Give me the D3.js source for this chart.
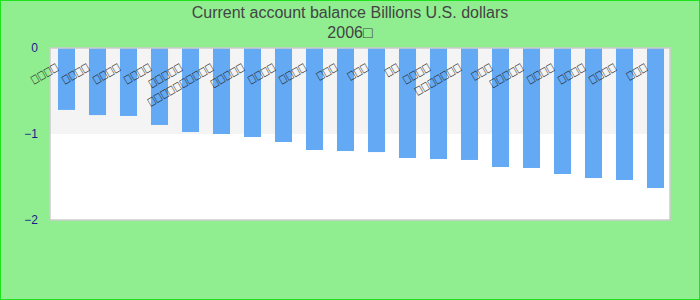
<!DOCTYPE html>
<html>
<head>
<meta charset="utf-8">
<script src="https://cdn.jsdelivr.net/npm/d3@7"></script>
<style>
  html, body { margin: 0; padding: 0; background: #fff; }
  svg { display: block; }
</style>
</head>
<body>
<div id="chart"></div>
<script>
// Category labels (rendered as missing-glyph boxes in the reference)
const categories = [
  "□□□□", "□□□□", "□□□□", "□□□□", "□□□□□",
  "□□□□□□□□□□", "□□□□□", "□□□□", "□□□□", "□□□",
  "□□□", "□□", "□□□□", "□□□□□□□", "□□□",
  "□□□□□", "□□□□", "□□□□", "□□□□", "□□□"
];
const values = [
  -0.72, -0.78, -0.79, -0.895, -0.977,
  -1.0, -1.035, -1.093, -1.186, -1.198,
  -1.21, -1.279, -1.291, -1.302, -1.384,
  -1.395, -1.465, -1.512, -1.535, -1.628
];
const yTicks = [0, -1, -2];
const titleLines = ["Current account balance Billions U.S. dollars", "2006□"];

const W = 700, H = 300;
const plot = { left: 50, right: 670, top: 48, bottom: 220 };

const svg = d3.select("#chart").append("svg")
  .attr("width", W).attr("height", H);

// background
svg.append("rect")
  .attr("x", 0.5).attr("y", 0.5)
  .attr("width", W - 1).attr("height", H - 1)
  .attr("fill", "#90ee90")
  .attr("stroke", "#1de31d").attr("stroke-width", 1);

const x = d3.scaleBand()
  .domain(categories.map((c, i) => i))
  .range([plot.left + 1, plot.right + 1])
  .paddingInner(0.45)
  .paddingOuter(0.225);

const y = d3.scaleLinear()
  .domain([-2, 0])
  .range([plot.bottom, plot.top]);

// plot background: white, with alternating grey band
svg.append("rect")
  .attr("x", plot.left).attr("y", plot.top)
  .attr("width", plot.right - plot.left).attr("height", plot.bottom - plot.top)
  .attr("fill", "#ffffff");

const bands = [[-1, 0]];
svg.selectAll("rect.band").data(bands).enter().append("rect")
  .attr("class", "band")
  .attr("x", plot.left)
  .attr("y", d => y(d[1]))
  .attr("width", plot.right - plot.left)
  .attr("height", d => y(d[0]) - y(d[1]))
  .attr("fill", "#f4f4f4");

// bars
svg.selectAll("rect.bar").data(values).enter().append("rect")
  .attr("class", "bar")
  .attr("x", (d, i) => x(i))
  .attr("y", d => y(0))
  .attr("width", x.bandwidth())
  .attr("height", d => y(d) - y(0))
  .attr("fill", "#63a9f4");

// plot frame
svg.append("rect")
  .attr("x", plot.left).attr("y", plot.top)
  .attr("width", plot.right - plot.left).attr("height", plot.bottom - plot.top)
  .attr("fill", "none")
  .attr("stroke", "#cccccc").attr("stroke-width", 1.5);

// y axis (labels only)
const yAxis = d3.axisLeft(y).tickValues(yTicks).tickSize(0).tickPadding(0)
  .tickFormat(d3.format("d"));
const gy = svg.append("g")
  .attr("transform", `translate(${plot.left - 12},0)`)
  .call(yAxis);
gy.select(".domain").remove();
gy.selectAll("text")
  .attr("fill", "#1a1a8c")
  .style("font-family", "'Liberation Sans', Arial, sans-serif")
  .style("font-size", "12px");

// category labels
svg.selectAll("text.cat").data(categories).enter().append("text")
  .attr("class", "cat")
  .attr("transform", (d, i) => `translate(${x(i) + 1},69) rotate(-30)`)
  .attr("text-anchor", "end")
  .attr("fill", "#222")
  .attr("textLength", d => d.length * 7.4)
  .attr("lengthAdjust", "spacingAndGlyphs")
  .style("font-family", "'DejaVu Sans', sans-serif")
  .style("font-size", "11px")
  .text(d => d);

// title
svg.selectAll("text.title").data(titleLines).enter().append("text")
  .attr("class", "title")
  .attr("x", W / 2)
  .attr("y", (d, i) => 18 + i * 20)
  .attr("text-anchor", "middle")
  .attr("fill", "#444")
  .style("font-family", "'Liberation Sans', Arial, sans-serif")
  .style("font-size", "16px")
  .text(d => d);
</script>
</body>
</html>
